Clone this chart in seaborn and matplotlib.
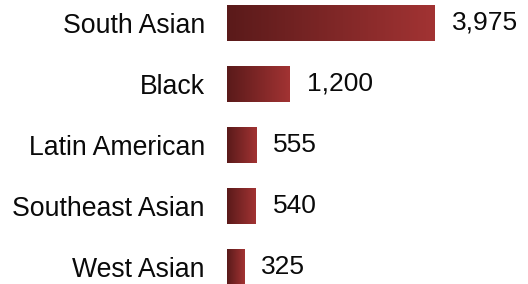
import numpy as np
import pandas as pd
import matplotlib
matplotlib.use("Agg")
import matplotlib.pyplot as plt
from matplotlib.colors import LinearSegmentedColormap
import seaborn as sns

# ===============================
# Data
# ===============================
groups = ["South Asian", "Black", "Latin American", "Southeast Asian", "West Asian"]
counts = [3975, 1200, 555, 540, 325]
value_labels = ["3,975", "1,200", "555", "540", "325"]

df = pd.DataFrame({"group": groups, "count": counts})

sns.set_style("white")
plt.rcParams["font.family"] = ["Liberation Sans", "DejaVu Sans"]

fig = plt.figure(figsize=(5.28, 2.84), dpi=100)
ax = fig.add_axes([227 / 528, 0, 1 - 227 / 528, 1])

sns.barplot(data=df, x="count", y="group", orient="h", width=0.59,
            color="#8a2a2a", ax=ax)

# gradient fill per bar (dark left -> lighter right)
cmap = LinearSegmentedColormap.from_list("grad", ["#5a1a1a", "#a23333"])
grad = np.linspace(0, 1, 256).reshape(1, -1)
for patch in ax.patches:
    x0, y0 = patch.get_x(), patch.get_y()
    w, h = patch.get_width(), patch.get_height()
    im = ax.imshow(grad, cmap=cmap, aspect="auto",
                   extent=[x0, x0 + w, y0 + h, y0], zorder=patch.get_zorder() + 0.1)
    im.set_clip_path(patch)
    patch.set_facecolor("none")
    patch.set_edgecolor("none")

for patch, lab in zip(ax.patches, value_labels):
    ax.annotate(lab, (patch.get_x() + patch.get_width(), patch.get_y() + patch.get_height() / 2),
                xytext=(12.5, 0), textcoords="offset points", ha="left", va="center",
                fontsize=19, color="#0a0a0a")

ax.set_xlim(0, 301 / (208 / 3975))
ax.set_ylim(4.28, -0.377)
ax.set_xlabel("")
ax.set_ylabel("")
ax.set_xticks([])
ax.tick_params(axis="y", length=0, pad=16, labelsize=19.2, labelcolor="#0a0a0a")
sns.despine(ax=ax, left=True, bottom=True)

fig.savefig("out.png", dpi=100)
